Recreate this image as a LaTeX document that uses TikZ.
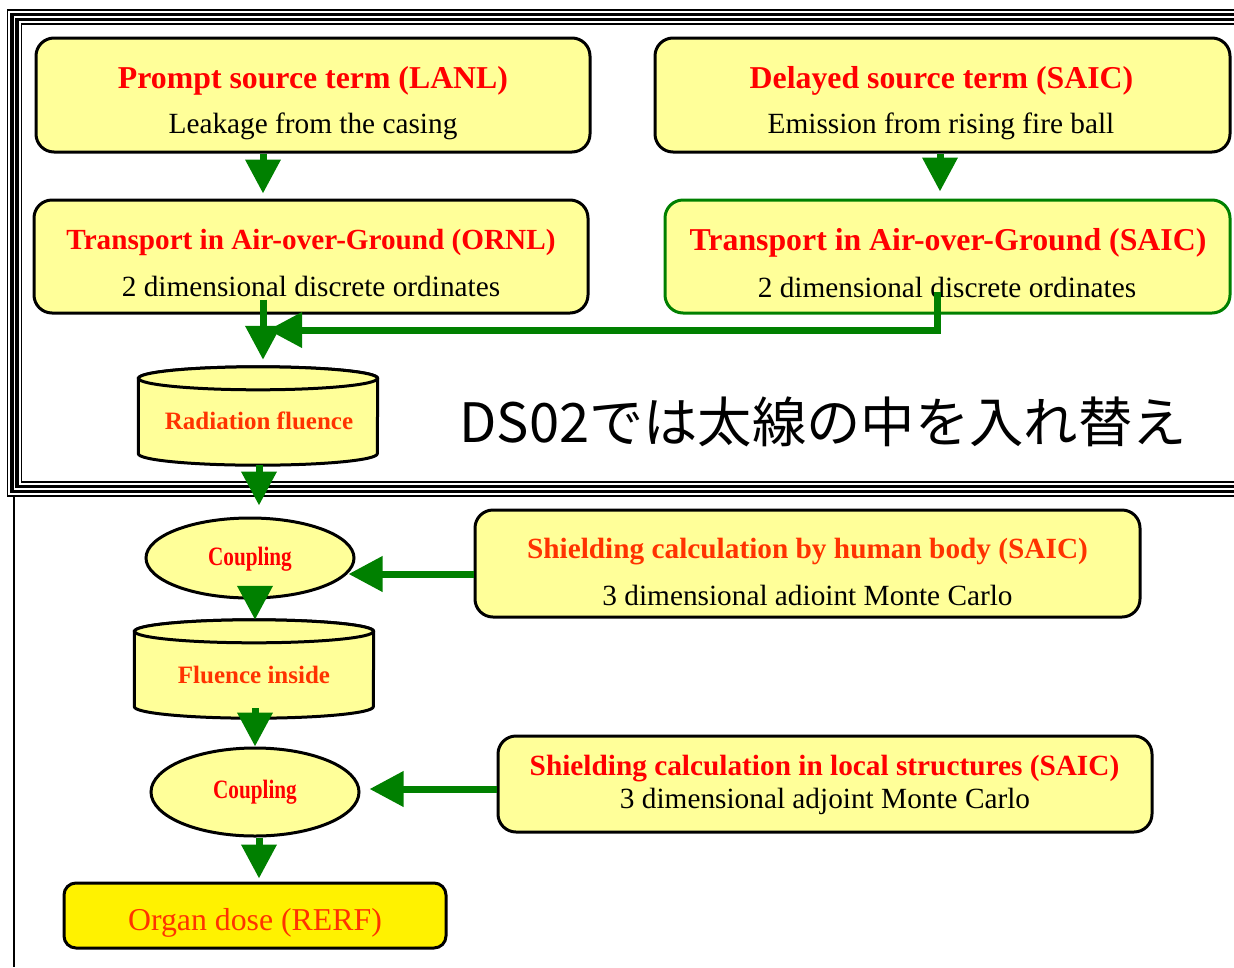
\documentclass[tikz,border=0pt]{standalone}
\usepackage{fontspec}
\setmainfont{Liberation Serif}
\newfontfamily\jpfont{Noto Sans CJK JP}
\newfontfamily\narrowfont[FakeStretch=0.8]{Liberation Serif}
\usetikzlibrary{arrows.meta, shapes.geometric}
\definecolor{boxyellow}{RGB}{255, 255, 153}
\definecolor{flowgreen}{RGB}{0, 128, 0}
\definecolor{titlered}{RGB}{255, 0, 0}
\definecolor{orangered}{RGB}{255, 51, 0}

\begin{document}
\begin{tikzpicture}[x=1pt, y=-1pt,
  box/.style={draw=black, line width=3pt, rounded corners=18pt, fill=boxyellow, inner sep=0pt},
  drum/.style={inner sep=0pt, minimum width=239pt, minimum height=98pt},
  drumline/.style={draw=black, line width=3pt, fill=boxyellow},
  oval/.style={ellipse, draw=black, line width=3pt, fill=boxyellow, inner sep=0pt},
  ttl/.style={anchor=base, inner sep=0pt, text=titlered, font=\bfseries\fontsize{29.3}{35}\selectfont},
  sub/.style={anchor=base, inner sep=0pt, font=\fontsize{29.3}{35}\selectfont},
  flow/.style={draw=flowgreen, line width=7pt, -{Triangle[width=34pt, length=34pt]}}]

  \useasboundingbox (0,0) rectangle (1234,967);
  \fill[white] (0,0) rectangle (1234,967);

  % frame round the DS02 part
  \foreach \d/\w in {0/1.2, 4.5/3.5, 9.5/3.5, 14/1.2} {
    \draw[line width=\w pt] (7.5+\d,10+\d) rectangle (1250-\d,496-\d);
  }
  \draw[line width=1.5pt] (14,496) -- (14,967);

  % source and transport boxes
  \node[box, minimum width=554pt, minimum height=114pt] (prompt) at (313,95) {};
  \node[ttl, font=\bfseries\fontsize{31.8}{38}\selectfont] (promptT) at (313,88) {Prompt source term (LANL)};
  \node[sub] (promptS) at (313,133) {Leakage from the casing};

  \node[box, minimum width=575pt, minimum height=114pt] (delayed) at (942.5,95) {};
  \node[ttl, font=\bfseries\fontsize{31.8}{38}\selectfont] (delayedT) at (941.5,88) {Delayed source term (SAIC)};
  \node[sub] (delayedS) at (941,133) {Emission from rising fire ball};

  \node[box, minimum width=554pt, minimum height=113pt] (ornl) at (311,256.5) {};
  \node[ttl, font=\bfseries\fontsize{29.2}{35}\selectfont] (ornlT) at (311,249) {Transport in Air-over-Ground (ORNL)};
  \node[sub] (ornlS) at (311,296) {2 dimensional discrete ordinates};

  \node[box, draw=flowgreen, minimum width=565pt, minimum height=113pt] (saic) at (947.5,256.5) {};
  \node[ttl, font=\bfseries\fontsize{31.8}{38}\selectfont] (saicT) at (948,250) {Transport in Air-over-Ground (SAIC)};
  \node[sub] (saicS) at (947,297) {2 dimensional discrete ordinates};

  \node[drum] (rad) at (258,416) {};
  \node[drum] (flu) at (254,669) {};
  \foreach \n in {rad, flu} {
    \draw[drumline] ([yshift=-11.5pt]\n.north west) -- ([yshift=11.5pt]\n.south west)
      arc[start angle=180, end angle=360, x radius=119.5pt, y radius=11.5pt]
      -- ([yshift=-11.5pt]\n.north east)
      arc[start angle=0, end angle=180, x radius=119.5pt, y radius=11.5pt] -- cycle;
    \draw[drumline] ([yshift=-11.5pt]\n.north) ellipse[x radius=119.5pt, y radius=11.5pt];
  }
  \node[anchor=base, inner sep=0pt, text=orangered, font=\bfseries\fontsize{25}{30}\selectfont] (radT) at (259,429) {Radiation fluence};
  \node[anchor=base, inner sep=0pt, text=orangered, font=\bfseries\fontsize{25}{30}\selectfont] (fluT) at (254,683) {Fluence inside};

  \node[anchor=base, inner sep=0pt, font=\jpfont\fontsize{54.3}{62}\selectfont] (note) at (823,442) {DS02では太線の中を入れ替え};

  % shielding and dose
  \node[oval, minimum width=208pt, minimum height=80pt] (coup1) at (250,558) {};
  \node[anchor=base, inner sep=0pt, text=titlered, font=\narrowfont\bfseries\fontsize{26.5}{30}\selectfont] (coup1T) at (250,565) {Coupling};

  \node[box, minimum width=665pt, minimum height=107pt] (human) at (807.5,563.5) {};
  \node[ttl, text=orangered] (humanT) at (807.5,558) {Shielding calculation by human body (SAIC)};
  \node[sub] (humanS) at (807.5,605) {3 dimensional adioint Monte Carlo};

  \node[oval, minimum width=208pt, minimum height=88pt] (coup2) at (255,792) {};
  \node[anchor=base, inner sep=0pt, text=titlered, font=\narrowfont\bfseries\fontsize{26.5}{30}\selectfont] (coup2T) at (255,798) {Coupling};

  \node[box, minimum width=654pt, minimum height=96pt] (local) at (825,784) {};
  \node[ttl] (localT) at (824.5,775) {Shielding calculation in local structures (SAIC)};
  \node[sub] (localS) at (825,808) {3 dimensional adjoint Monte Carlo};

  \node[box, rounded corners=12pt, fill=yellow, minimum width=382pt, minimum height=65pt] (organ) at (255,915.5) {};
  \node[anchor=base, inner sep=0pt, text=orangered, font=\fontsize{31.8}{38}\selectfont] (organT) at (255,930) {Organ dose (RERF)};

  % green flow arrows
  \coordinate (feed) at (268,330);
  \draw[flow] ([xshift=-50pt]prompt.south) -- ([xshift=-48pt,yshift=5pt]ornl.north);
  \draw[flow] ([xshift=-2.5pt]delayed.south) -- ([xshift=-7.5pt,yshift=7pt]saic.north);
  \draw[flow] ([xshift=-48pt,yshift=15pt]ornl.south) -- ([xshift=5pt,yshift=7pt]rad.north);
  \draw[flow] ([xshift=-10.5pt,yshift=23pt]saic.south) |- (feed);
  \draw[flow] ([xshift=1pt]rad.south) -- ([xshift=9pt,yshift=11pt]coup1.north);
  \draw[flow] ([xshift=5pt,yshift=13pt]coup1.south) -- ([xshift=1pt]flu.north);
  \draw[flow] ([xshift=1pt,yshift=10pt]flu.south) -- (coup2.north);
  \draw[flow] ([xshift=4pt]coup2.south) -- ([xshift=4pt,yshift=3pt]organ.north);
  \draw[flow] ([yshift=-10.5pt]human.west) -- ([xshift=-7pt,yshift=-16pt]coup1.east);
  \draw[flow] ([yshift=-5pt]local.west) -- ([xshift=9pt,yshift=3pt]coup2.east);

\end{tikzpicture}
\end{document}
